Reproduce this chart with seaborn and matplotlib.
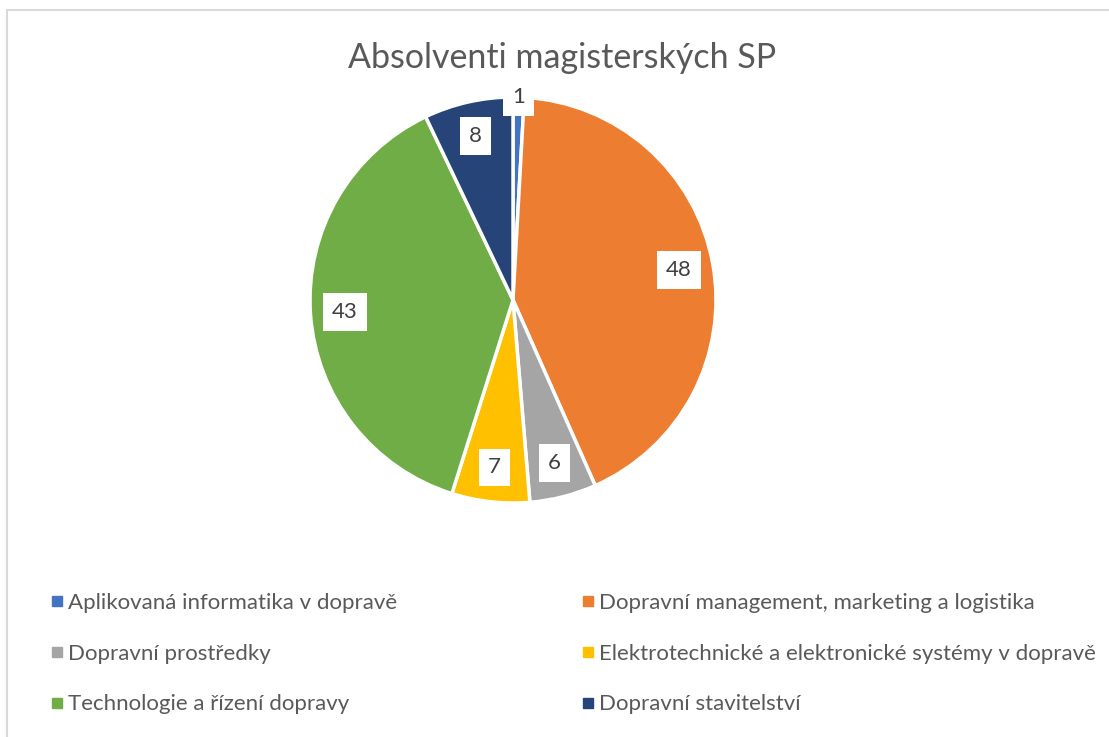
import numpy as np
import matplotlib
matplotlib.use("Agg")
import matplotlib.pyplot as plt
import seaborn as sns

# Absolventi magisterských studijních programů
programs = [
    "Aplikovaná informatika v dopravě",
    "Dopravní management, marketing a logistika",
    "Dopravní prostředky",
    "Elektrotechnické a elektronické systémy v dopravě",
    "Technologie a řízení dopravy",
    "Dopravní stavitelství",
]
graduates = [1, 48, 6, 7, 43, 8]
colors = ["#4472C4", "#ED7D31", "#A5A5A5", "#FFC000", "#70AD47", "#264478"]

sns.set_theme(style="white")
plt.rcParams['font.family'] = ['Lato', 'DejaVu Sans']
text_color = "#595959"

W, H = 1109, 737
fig = plt.figure(figsize=(W / 100, H / 100), dpi=100)

# pie centre ~ (513, 300) px, radius ~ 203 px
cx, cy, r = 513, 300, 203
ax = fig.add_axes([(cx - r) / W, (H - cy - r) / H, 2 * r / W, 2 * r / H])
wedges, _ = ax.pie(graduates, colors=colors, startangle=90, counterclock=False,
                   wedgeprops=dict(edgecolor="white", linewidth=2.5))
ax.set_xlim(-1, 1)
ax.set_ylim(-1, 1)
ax.set_aspect("equal")
ax.axis("off")

# data labels in white boxes
for w, v in zip(wedges, graduates):
    ang = np.deg2rad((w.theta1 + w.theta2) / 2)
    d = 1.0 if v < 3 else 0.83
    ax.text(d * np.cos(ang), d * np.sin(ang), str(v), ha="center", va="center",
            fontsize=16, color="#404040",
            bbox=dict(boxstyle="square,pad=0.4", fc="white", ec="none"))

fig.text(0.507, 1 - 58 / H, "Absolventi magisterských SP", ha="center", va="center",
         fontsize=24.5, color=text_color)

# legend, row-major like Excel
order = [0, 2, 4, 1, 3, 5]
handles = [plt.Line2D([], [], marker="s", linestyle="none", markersize=7,
                      color=colors[i]) for i in order]
labels = [programs[i] for i in order]
leg = fig.legend(handles, labels, ncol=2, loc="upper left",
                 bbox_to_anchor=(50 / W, 1 - 593 / H), frameon=False,
                 borderpad=0, borderaxespad=0,
                 fontsize=16, labelcolor=text_color, handletextpad=0.2,
                 handlelength=0.6, labelspacing=1.38, columnspacing=8.3)

# chart area border (top and left visible)
fig.add_artist(plt.Line2D([7 / W, 1], [1 - 10 / H, 1 - 10 / H], color="#D9D9D9", lw=1.5))
fig.add_artist(plt.Line2D([7 / W, 7 / W], [0, 1 - 10 / H], color="#D9D9D9", lw=1.5))

fig.savefig("out.png", dpi=100, facecolor="white")
